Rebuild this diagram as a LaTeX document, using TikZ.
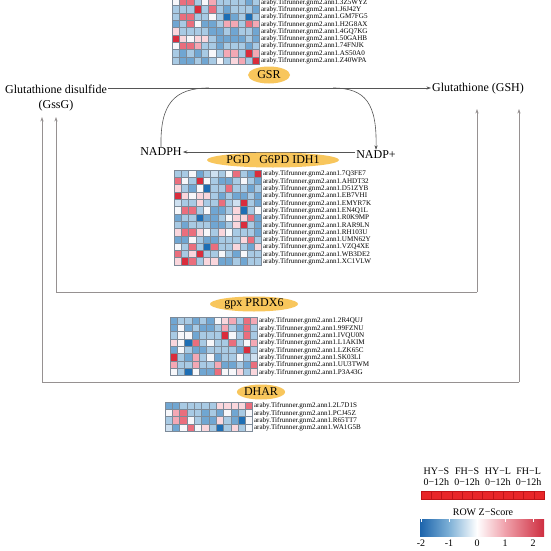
\documentclass[tikz,border=0pt]{standalone}
\usepackage{fontspec}
\setmainfont{Liberation Serif}
\usetikzlibrary{arrows.meta,shapes.geometric}
\definecolor{hmB}{RGB}{30,110,180}
\definecolor{hmb}{RGB}{112,166,210}
\definecolor{hml}{RGB}{168,202,228}
\definecolor{hmc}{RGB}{206,224,240}
\definecolor{hmw}{RGB}{247,247,250}
\definecolor{hmq}{RGB}{250,214,220}
\definecolor{hmp}{RGB}{244,168,180}
\definecolor{hmr}{RGB}{234,110,125}
\definecolor{hmR}{RGB}{218,45,60}
\definecolor{cellline}{RGB}{125,138,152}
\definecolor{ellcol}{RGB}{248,198,92}
\definecolor{mainln}{RGB}{85,85,85}
\definecolor{connln}{RGB}{150,145,145}
\definecolor{legred}{RGB}{232,38,40}
\definecolor{legredd}{RGB}{190,20,24}
\definecolor{zB}{RGB}{28,100,172}
\definecolor{zb}{RGB}{125,176,214}
\definecolor{zp}{RGB}{240,162,172}
\definecolor{zR}{RGB}{206,46,64}
\newcommand{\hrow}[5]{%
  \foreach \c [count=\j from 0] in {#3} {
    \path[hmcell, fill=hm\c] (#1+\j*7.3, #2) rectangle ++(7.3,7.3);
  }
  \node[lab, anchor=base west] (#5) at (#1+87.6+1.2, #2+5.9) {araby.Tifrunner.gnm2.ann1.#4};
}
\begin{document}
\begin{tikzpicture}[x=1pt,y=-1pt,
  hmcell/.style={draw=cellline, line width=0.3pt},
  lab/.style={font=\fontsize{7.1}{7.3}\selectfont, inner sep=0pt},
  txt/.style={font=\fontsize{12}{15}\selectfont, inner sep=1pt},
  ell/.style={ellipse, fill=ellcol, inner sep=0pt, font=\fontsize{12}{14}\selectfont},
  mainline/.style={draw=mainln, line width=0.6pt},
  tip/.style={-{Stealth[length=4.5pt,width=3.2pt]}},
  conn/.style={draw=connln, line width=0.8pt},
  leg/.style={font=\fontsize{10}{11}\selectfont, inner sep=0pt},
  legcell/.style={fill=legred, draw=legredd, line width=0.4pt}]
\useasboundingbox (0,0) rectangle (550,551);
\fill[white] (0,0) rectangle (550,551);

% ---------- top heatmap (GSR) ----------
\hrow{172}{-1.7+0*7.3}{w,r,r,l,w,p,l,l,l,l,b,l}{3Z5WYZ}{t1}
\hrow{172}{-1.7+1*7.3}{l,l,l,R,l,r,l,b,l,l,l,b}{J6J42Y}{t2}
\hrow{172}{-1.7+2*7.3}{l,r,r,l,l,w,l,B,b,l,B,l}{GM7FG5}{t3}
\hrow{172}{-1.7+3*7.3}{b,l,r,w,b,b,l,p,p,l,r,p}{H2G8AX}{t4}
\hrow{172}{-1.7+4*7.3}{q,l,l,l,l,b,b,l,b,l,l,b}{4GQ7KG}{t5}
\hrow{172}{-1.7+5*7.3}{R,q,w,q,q,l,b,b,b,b,l,b}{50GAHB}{t6}
\hrow{172}{-1.7+6*7.3}{w,r,r,p,l,l,b,l,l,l,b,l}{74FNJK}{t7}
\hrow{172}{-1.7+7*7.3}{l,b,l,b,l,w,l,p,p,l,R,p}{AS50A0}{t8}
\hrow{172}{-1.7+8*7.3}{l,b,b,l,b,l,w,l,q,p,l,R}{Z40WPA}{t9}

% ---------- main reaction ----------
\node[ell, minimum width=42pt, minimum height=17pt] (gsr) at (269,75) {GSR};
\node[txt, align=center] (gssg) at (56,98) {Glutathione disulfide\\(GssG)};
\node[txt] (gsh) at (478,89) {Glutathione (GSH)};
\node[txt] (nadph) at (161,152) {NADPH};
\node[txt] (nadp) at (376,155) {NADP+};
\coordinate (j1) at (209,88);
\coordinate (j2) at (333,88);
\draw[mainline, tip] (gssg.east |- j1) -- (gsh.west |- j1);
\draw[mainline] (nadph.north) .. controls (160,104) and (174,88) .. (j1);
\draw[mainline, tip] (j2) .. controls (366,88) and (377,104) .. (nadp.north);
\draw[mainline, tip] (nadp.west |- nadph.east) -- (nadph.east);
\node[ell, minimum width=119pt, minimum height=15pt] (pgd) at (273,160) {PGD\hspace{6pt} G6PD IDH1};

% ---------- middle heatmap ----------
\hrow{174}{170+0*7.3}{l,l,w,b,l,c,l,w,r,l,b,R}{7Q3FE7}{m1}
\hrow{174}{170+1*7.3}{r,w,l,R,w,l,b,b,l,w,l,b}{AHDT32}{m2}
\hrow{174}{170+2*7.3}{q,l,b,w,B,l,l,r,l,l,b,l}{D51ZYB}{m3}
\hrow{174}{170+3*7.3}{R,q,w,q,q,l,b,l,b,b,l,b}{EB7VHI}{m4}
\hrow{174}{170+4*7.3}{c,l,l,q,l,l,r,l,c,R,l,b}{EMYR7K}{m5}
\hrow{174}{170+5*7.3}{w,r,r,l,w,b,b,l,q,B,l,w}{EN4Q1L}{m6}
\hrow{174}{170+6*7.3}{b,l,l,B,b,b,l,w,q,q,r,b}{R0K9MP}{m7}
\hrow{174}{170+7*7.3}{l,b,l,l,l,b,b,l,q,R,l,b}{RAR9LN}{m8}
\hrow{174}{170+8*7.3}{q,r,r,q,w,l,q,w,l,l,l,b}{RH103U}{m9}
\hrow{174}{170+9*7.3}{b,b,w,l,b,b,l,l,l,q,r,l}{UMN62Y}{m10}
\hrow{174}{170+10*7.3}{w,l,r,l,B,r,l,l,q,l,b,q}{VZQ4XE}{m11}
\hrow{174}{170+11*7.3}{r,l,q,R,l,l,w,l,b,w,l,l}{WB3DE2}{m12}
\hrow{174}{170+12*7.3}{q,R,r,l,q,q,b,b,l,b,l,l}{XC1VLW}{m13}

% ---------- gpx PRDX6 ----------
\node[ell, minimum width=88pt, minimum height=15pt] (gpx) at (254,304) {gpx PRDX6};
\hrow{170}{317+0*7.3}{b,l,l,b,l,b,w,q,p,l,r,p}{2R4QUJ}{g1}
\hrow{170}{317+1*7.3}{b,w,b,l,b,b,l,p,l,b,r,l}{99FZNU}{g2}
\hrow{170}{317+2*7.3}{l,w,w,b,l,l,l,R,w,l,r,l}{IVQU0N}{g3}
\hrow{170}{317+3*7.3}{q,w,B,r,l,w,l,l,r,l,w,p}{L1AKIM}{g4}
\hrow{170}{317+4*7.3}{b,w,l,b,b,l,l,l,l,b,R,l}{LZK65C}{g5}
\hrow{170}{317+5*7.3}{R,l,b,p,l,w,b,l,l,w,l,c}{SK03LI}{g6}
\hrow{170}{317+6*7.3}{p,l,l,p,l,l,p,b,b,l,b,r}{UU3TWM}{g7}
\hrow{170}{317+7*7.3}{w,l,B,w,b,b,r,w,w,q,l,q}{P3A43G}{g8}

% ---------- DHAR ----------
\node[ell, minimum width=44pt, minimum height=15pt] (dhar) at (261,392) {DHAR};
\hrow{165}{402+0*7.3}{b,b,l,l,l,l,l,q,q,q,q,r}{2L7D1S}{d1}
\hrow{165}{402+1*7.3}{w,p,r,l,l,b,l,b,w,b,l,w}{PCJ45Z}{d2}
\hrow{165}{402+2*7.3}{l,p,r,w,l,b,b,q,l,b,B,w}{R65TT7}{d3}
\hrow{165}{402+3*7.3}{c,b,w,r,w,q,l,B,l,q,l,w}{WA1G5B}{d4}

% ---------- connectors to GssG / GSH ----------
\coordinate (aL1) at (56,117);
\coordinate (aL2) at (42,117);
\coordinate (aR1) at (477,109);
\coordinate (aR2) at (519,109);
\coordinate (iL) at (56,292);
\coordinate (iR) at (477,292);
\coordinate (oL) at (42,382);
\coordinate (oR) at (519,382);
\draw[conn, tip] (iR) -- (iL) -- (aL1);
\draw[conn, tip] (iR) -- (aR1);
\draw[conn, tip] (oR) -- (oL) -- (aL2);
\draw[conn, tip] (oR) -- (aR2);

% ---------- legend ----------
\node[leg] (hy1) at (436.4,471) {HY−S};
\node[leg] (hy2) at (467.1,471) {FH−S};
\node[leg] (hy3) at (497.9,471) {HY−L};
\node[leg] (hy4) at (528.6,471) {FH−L};
\node[leg] (tm1) at (436.4,482.5) {0−12h};
\node[leg] (tm2) at (467.1,482.5) {0−12h};
\node[leg] (tm3) at (497.9,482.5) {0−12h};
\node[leg] (tm4) at (528.6,482.5) {0−12h};
\foreach \j in {0,...,11} {
  \path[legcell] (421+\j*10.25,491) rectangle ++(10.25,8);
}
\node[leg] (zs) at (483,512) {ROW Z−Score};
\shade[left color=zB, right color=zb] (420,519) rectangle (449,536);
\shade[left color=zb, right color=white] (448.8,519) rectangle (477,536);
\shade[left color=white, right color=zp] (476.8,519) rectangle (505,536);
\shade[left color=zp, right color=zR] (504.8,519) rectangle (544,536);
\foreach \k in {0,...,4} {
  \draw[white, line width=0.6pt] (421+\k*28,519) -- (421+\k*28,522);
}
\node[leg] (k1) at (421,543) {-2};
\node[leg] (k2) at (449,543) {-1};
\node[leg] (k3) at (477,543) {0};
\node[leg] (k4) at (505,543) {1};
\node[leg] (k5) at (533,543) {2};
\end{tikzpicture}
\end{document}
